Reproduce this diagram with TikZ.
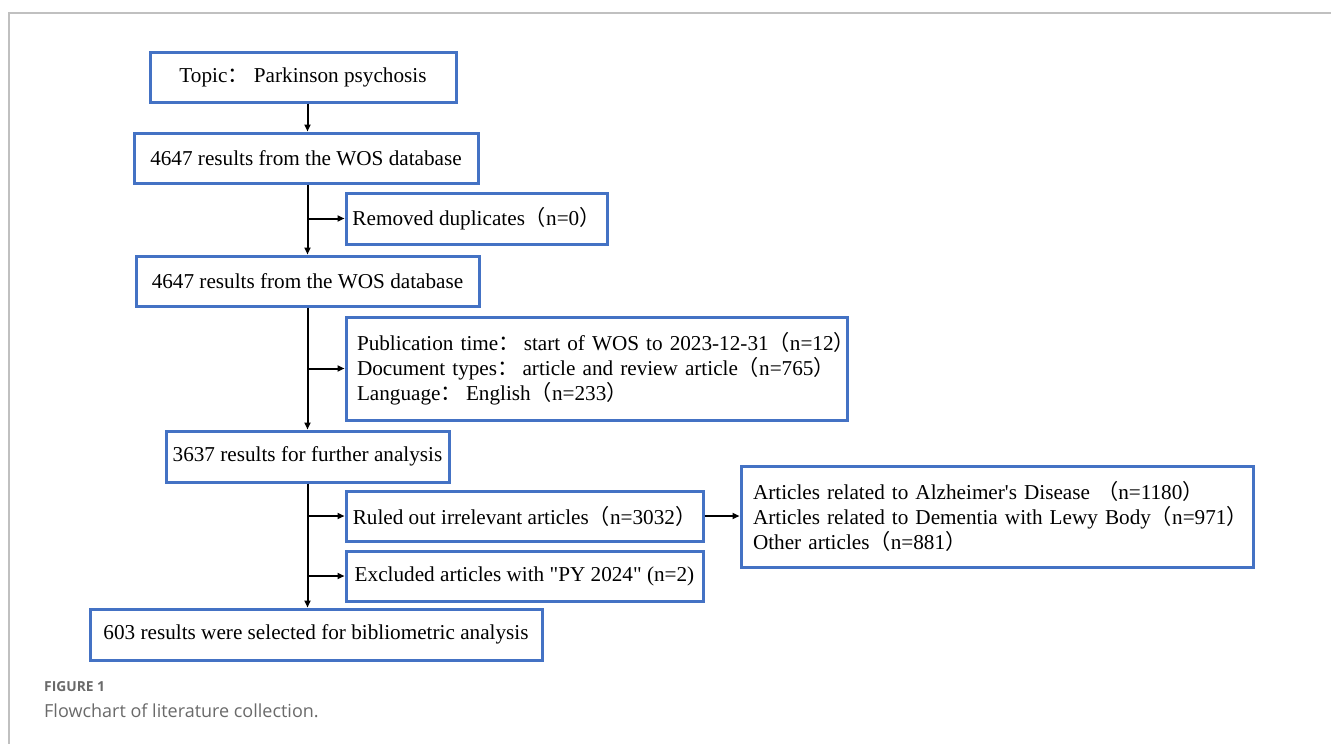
\documentclass[tikz,border=0pt]{standalone}
\usepackage{fontspec}
\setmainfont{Liberation Serif}
\newfontfamily\cjk{Noto Sans CJK SC}
\newfontfamily\capfont{Open Sans}
\usetikzlibrary{arrows.meta}
\definecolor{boxblue}{HTML}{4472C4}
\definecolor{framegrey}{HTML}{C0C0C0}
\definecolor{capgrey}{HTML}{6A6A6A}
\newcommand{\fwc}{{\cjk ：}}
\newcommand{\fwl}{{\cjk （}}
\newcommand{\fwr}{{\cjk ）}}
\begin{document}
\begin{tikzpicture}[x=1pt,y=-1pt,
  box/.style={draw=boxblue,line width=3pt,fill=white,inner sep=0pt,
    font=\fontsize{21.2}{25}\selectfont},
  arr/.style={line width=2pt,-{Triangle[length=7pt,width=6pt]}}]
\useasboundingbox (0,0) rectangle (1331,744);
\fill[white] (0,0) rectangle (1331,744);
\draw[framegrey,line width=2.5pt] (9,744) -- (9,13) -- (1331,13);

\node[box,minimum width=306,minimum height=50] (topic) at (303,77) {Topic\fwc\ Parkinson psychosis};
\node[box,minimum width=344,minimum height=50] (wosa) at (306,158) {4647 results from the WOS database};
\node[box,minimum width=261,minimum height=51] (dup) at (476.5,218.5) {Removed duplicates\fwl n=0\fwr};
\node[box,minimum width=343,minimum height=50] (wosb) at (307.5,281) {4647 results from the WOS database};
\node[box,minimum width=501,minimum height=103,text width=479,align=left] (pub) at (596.5,368.5)
  {\mbox{Publication time\fwc\hspace{0.2em}start of WOS to 2023-12-31\fwl n=12\fwr}\\
   \mbox{Document types\fwc\hspace{0.2em}article and review article\fwl n=765\fwr}\\
   \mbox{Language\fwc\hspace{0.2em}English\fwl n=233\fwr}};
\node[box,minimum width=283,minimum height=51] (res) at (307.5,456.5) {3637 results for further analysis};
\node[box,minimum width=357,minimum height=50] (rul) at (524.5,516) {Ruled out irrelevant articles\fwl n=3032\fwr};
\node[box,minimum width=357,minimum height=50] (exc) at (524.5,576) {Excluded articles with \textquotedbl PY 2024\textquotedbl\ (n=2)};
\node[box,minimum width=512,minimum height=101,text width=488,align=left] (alz) at (997,516.5)
  {\mbox{Articles related to Alzheimer\textquotesingle s Disease \fwl n=1180\fwr}\\
   \mbox{Articles related to Dementia with Lewy Body\fwl n=971\fwr}\\
   \mbox{Other articles\fwl n=881\fwr}};
\node[box,minimum width=452,minimum height=51] (fin) at (316,634.5) {603 results were selected for bibliometric analysis};

\coordinate (sp) at (307.5,0);
\draw[arr] (topic.south -| sp) -- (wosa.north -| sp);
\draw[arr] (wosa.south -| sp) -- (wosb.north -| sp);
\draw[arr] (wosb.south -| sp) -- (res.north -| sp);
\draw[arr] (res.south -| sp) -- (fin.north -| sp);
\draw[arr] (dup.west -| sp) -- (dup.west);
\draw[arr] (pub.west -| sp) -- (pub.west);
\draw[arr] (rul.west -| sp) -- (rul.west);
\draw[arr] (exc.west -| sp) -- (exc.west);
\draw[arr] (rul.east) -- (alz.west |- rul.east);

\node[anchor=base west,inner sep=0pt,text=capgrey,font=\capfont\fontsize{13.8}{15}\selectfont\bfseries] (fig) at (44,691) {FIGURE 1};
\node[anchor=base west,inner sep=0pt,text=capgrey,font=\capfont\fontsize{18}{20}\selectfont] (cap) at (44,717) {Flowchart of literature collection.};
\end{tikzpicture}
\end{document}
